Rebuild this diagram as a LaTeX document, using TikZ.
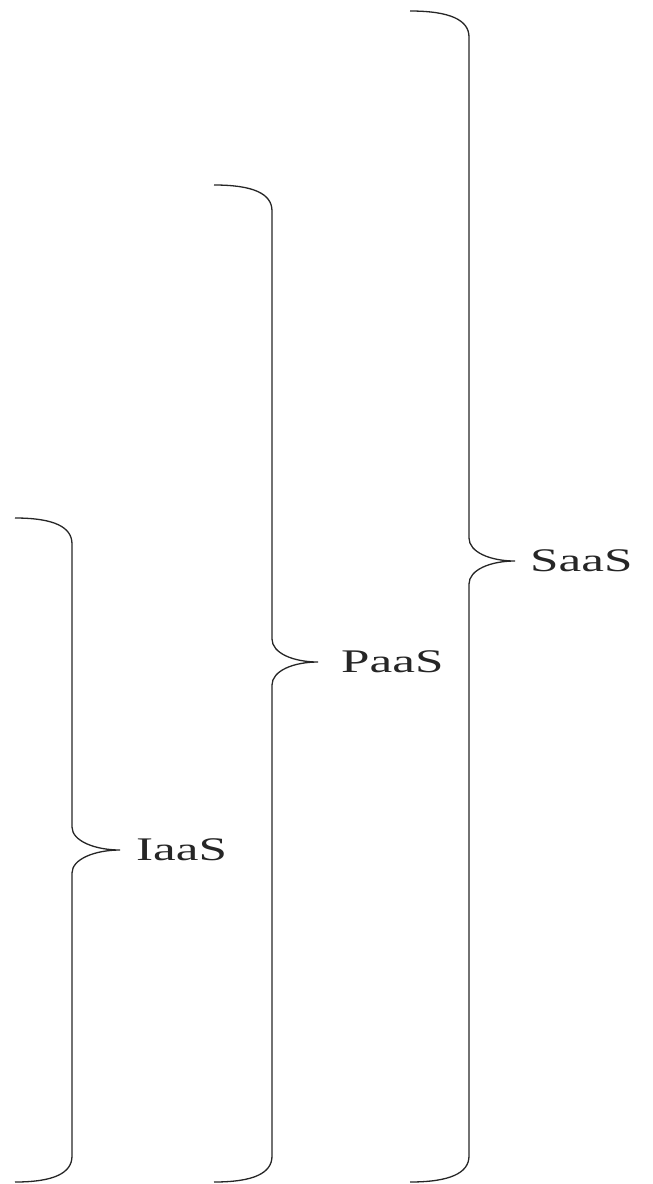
\documentclass[tikz,border=0pt]{standalone}
\usepackage{fontspec}
\setmainfont{Liberation Serif}
\usetikzlibrary{positioning}

\begin{document}
\begin{tikzpicture}[x=1pt,y=-1pt,
    brace line/.style={draw=black!85,line width=1.3pt},
    layer label/.style={inner sep=1pt,text=black!85,font=\fontsize{33}{35}\selectfont}]
                \useasboundingbox (0,0) rectangle (653,1184);
                \coordinate (saas tip) at (515,561);
                \coordinate (paas tip) at (318,662);
                \coordinate (iaas tip) at (120,850);
                % SaaS
                \draw [brace line] (410,11) .. controls (450,11) and (469,20) .. (469,37)
                  -- (469,538) .. controls (469,552) and (490,561) .. (saas tip)
                  .. controls (490,561) and (469,570) .. (469,584)
                  -- (469,1156) .. controls (469,1173) and (450,1182) .. (410,1182);
                \node [layer label,right=14pt of saas tip] (saas) {\scalebox{1.55}[1]{SaaS}};
                % PaaS
                \draw [brace line] (214,185) .. controls (254,185) and (272,194) .. (272,211)
                  -- (272,639) .. controls (272,653) and (293,662) .. (paas tip)
                  .. controls (293,662) and (272,671) .. (272,685)
                  -- (272,1156) .. controls (272,1173) and (254,1182) .. (214,1182);
                \node [layer label,right=22pt of paas tip] (paas) {\scalebox{1.55}[1]{PaaS}};
                % IaaS
                \draw [brace line] (15,518) .. controls (54,518) and (72,527) .. (72,544)
                  -- (72,827) .. controls (72,841) and (95,850) .. (iaas tip)
                  .. controls (95,850) and (72,859) .. (72,873)
                  -- (72,1156) .. controls (72,1173) and (54,1182) .. (15,1182);
                \node [layer label,right=15pt of iaas tip] (iaas) {\scalebox{1.55}[1]{IaaS}};
            \end{tikzpicture}
\end{document}
